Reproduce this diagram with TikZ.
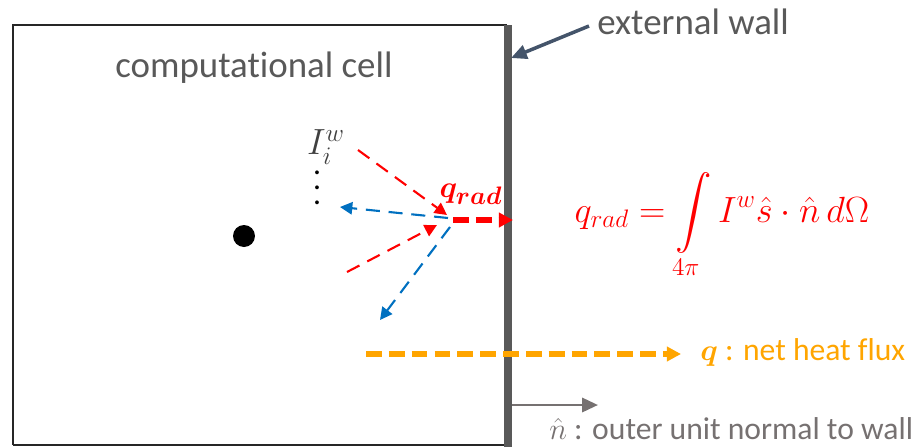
\documentclass[tikz,border=0pt]{standalone}
\usepackage{amsmath}
\usepackage{fontspec}
\setmainfont{Carlito}[Ligatures=NoCommon]
\usepackage{xcolor}
\usetikzlibrary{arrows.meta}
\definecolor{wallgray}{HTML}{595959}
\definecolor{slate}{HTML}{44546A}
\definecolor{normgray}{HTML}{767171}
\definecolor{rayblue}{HTML}{0070C0}
\definecolor{fluxorange}{HTML}{FFA500}

\begin{document}
\begin{tikzpicture}[x=0.02cm, y=-0.02cm,
  cellbox/.style={draw=black!85, line width=0.8pt},
  wallbar/.style={draw=wallgray, line width=0.16cm},
  big/.style={font=\fontsize{21}{25}\selectfont, text=wallgray, inner sep=0pt},
  small/.style={font=\fontsize{18}{22}\selectfont, inner sep=0pt},
  ray/.style={dashed, dash pattern=on 8pt off 5pt, line width=1.2pt, -{Triangle[length=7pt,width=7pt]}},
  inray/.style={ray, draw=red},
  outray/.style={ray, draw=rayblue},
  thick flux/.style={line width=2.9pt, dash pattern=on 9pt off 4pt, -{Triangle[length=8pt,width=8pt]}}]
\useasboundingbox (0,0) rectangle (917,447);
% ================= cell and wall =================
\draw[cellbox] (13,445) -- (13,25) -- (507,25);
\draw[cellbox] (13,445) -- (507,445);
\draw[wallbar] (507.5,25) -- (507.5,447);
\node[big, anchor=west] (cell) at (115,68) {computational cell};
\node[circle, fill=black, inner sep=0pt, minimum size=0.44cm] (centre) at (244,236) {};
% ================= wall label =================
\node[big, anchor=west] (wall) at (597,22) {external wall};
\coordinate (wallhit) at (511,58);
\draw[slate, line width=2pt, -{Triangle[length=9pt,width=8pt]}] (wall.west) ++(-8,4) -- (wallhit);
% ================= intensities at the wall =================
\node[font=\fontsize{21}{25}\selectfont, inner sep=0pt, text=black!75] (iw) at (326,147) {$I_i^w$};
\node[font=\fontsize{18}{8.5}\selectfont, inner sep=0pt, align=center] (dots) at (317,188) {.\\.\\.};
\foreach \n/\x/\y/\tx/\ty in {a/358/150/447/215, b/347/272/437/225}{
  \coordinate (in\n) at (\x,\y);
  \coordinate (hit\n) at (\tx,\ty);
  \draw[inray] (in\n) -- (hit\n);
}
\foreach \n/\x/\y/\tx/\ty in {a/448/218/340/207, b/450/227/380/320}{
  \coordinate (src\n) at (\x,\y);
  \coordinate (out\n) at (\tx,\ty);
  \draw[outray] (src\n) -- (out\n);
}
\coordinate (qfrom) at (453,220);
\coordinate (qto) at (513,220);
\draw[thick flux, red] (qfrom) -- (qto);
\node[font=\fontsize{19}{23}\selectfont, inner sep=0pt, text=red] (qrad) at (471,194) {$\boldsymbol{q_{rad}}$};
\node[font=\fontsize{20.5}{24}\selectfont, text=red] (eq) at (722,226)
  {$\displaystyle q_{rad} = \int\limits_{4\pi} I^w \hat{s}\cdot\hat{n}\, d\Omega$};
% ================= net flux and normal =================
\coordinate (fstart) at (366,354);
\coordinate (fend) at (681,354);
\draw[thick flux, fluxorange] (fstart) -- (fend);
\node[small, anchor=west, text=fluxorange] (netq) at (700,352) {$\boldsymbol{q}$ : net heat flux};
\coordinate (nbase) at (512,405);
\coordinate (ntip) at (598,405);
\draw[normgray, line width=1.6pt, -{Triangle[length=9pt,width=8pt]}] (nbase) -- (ntip);
\node[small, anchor=west, text=normgray] (nlabel) at (549,429) {$\hat{n}$ : outer unit normal to wall};
\end{tikzpicture}
\end{document}
